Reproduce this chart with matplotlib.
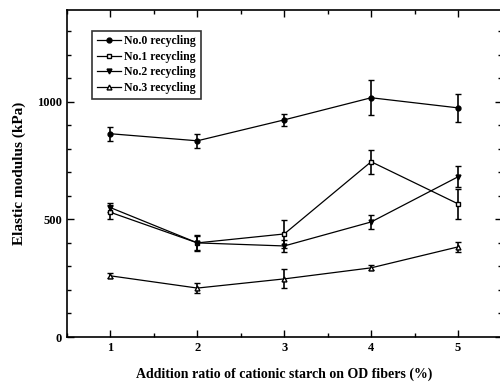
import matplotlib
matplotlib.use("Agg")
import matplotlib.pyplot as plt
from matplotlib.lines import Line2D
from matplotlib.ticker import MultipleLocator

plt.rcParams["font.family"] = ["Liberation Serif", "DejaVu Serif"]

ratio = [1, 2, 3, 4, 5]
labels = ["No.0 recycling", "No.1 recycling", "No.2 recycling", "No.3 recycling"]
no0 = [864, 834, 923, 1017, 974]
no0_err = [30, 30, 25, 75, 60]
no1 = [530, 400, 438, 745, 566]
no1_err = [30, 30, 60, 50, 65]
no2 = [550, 400, 387, 489, 681]
no2_err = [20, 35, 25, 30, 45]
no3 = [260, 208, 247, 294, 383]
no3_err = [10, 20, 40, 10, 20]

series = [
    (no0, no0_err, dict(marker="o", mfc="black")),
    (no1, no1_err, dict(marker="s", mfc="white")),
    (no2, no2_err, dict(marker="v", mfc="black")),
    (no3, no3_err, dict(marker="^", mfc="white")),
]

fig = plt.figure(figsize=(5, 3.86), dpi=100)
ax = fig.add_axes([67 / 500, 49 / 386, 434.5 / 500, 327 / 386])

handles = []
for (vals, err, style), label in zip(series, labels):
    ax.errorbar(ratio, vals, yerr=err, color="black", mec="black", ms=3.5,
                lw=0.9, elinewidth=1.2, capsize=2.5, capthick=1.0, **style)
    handles.append(Line2D([], [], color="black", mec="black", ms=3.5, lw=0.9,
                          label=label, **style))

ax.set_xlim(0.5, 5.5)
ax.set_ylim(0, 1390)
ax.xaxis.set_major_locator(MultipleLocator(1))
ax.xaxis.set_minor_locator(MultipleLocator(0.5))
ax.yaxis.set_major_locator(MultipleLocator(500))
ax.yaxis.set_minor_locator(MultipleLocator(100))
ax.tick_params(which="both", direction="in", top=True, right=True, width=1.0)
ax.tick_params(which="major", length=5, labelsize=9)
ax.tick_params(which="minor", length=3)
for t in ax.get_xticklabels() + ax.get_yticklabels():
    t.set_fontweight("bold")
for s in ax.spines.values():
    s.set_linewidth(1.2)

ax.set_ylabel("Elastic modulus (kPa)", fontsize=11, fontweight="bold", labelpad=8)
ax.set_xlabel("Addition ratio of cationic starch on OD fibers (%)", fontsize=10,
              fontweight="bold", labelpad=10)

leg = ax.legend(handles=handles, loc="upper left", bbox_to_anchor=(0.045, 0.955),
                frameon=True, fancybox=False, edgecolor="black", handlelength=2.0,
                borderpad=0.4, labelspacing=0.3, handletextpad=0.3,
                prop=dict(size=8.5, weight="bold"))
leg.get_frame().set_linewidth(1.2)

fig.savefig("out.png", dpi=100)
